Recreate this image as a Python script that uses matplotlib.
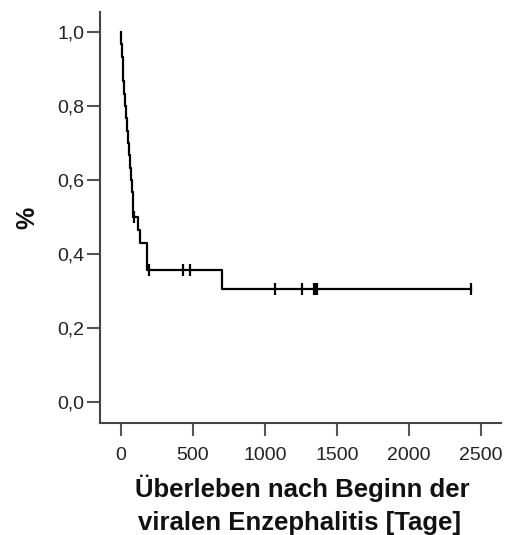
import numpy as np
import matplotlib.pyplot as plt
from matplotlib.ticker import FuncFormatter

# Survival times (days) and status: 1 = died, 0 = censored
times = [2, 6, 12, 17, 22, 30, 38, 44, 48, 54, 61, 68, 74, 80, 85,
         92, 115, 130, 178, 178, 195, 430, 480, 700,
         1070, 1258, 1340, 1350, 1360, 2432]
events = [1, 1, 1, 1, 1, 1, 1, 1, 1, 1, 1, 1, 1, 1, 1,
          0, 1, 1, 1, 1, 0, 0, 0, 1,
          0, 0, 0, 0, 0, 0]

x_ticks = [0, 500, 1000, 1500, 2000, 2500]
y_ticks = [0.0, 0.2, 0.4, 0.6, 0.8, 1.0]

FONT = ['Liberation Sans', 'DejaVu Sans']
plt.rcParams['font.family'] = FONT


# Kaplan-Meier estimate from times/events
def kaplan_meier(t, e):
    t = np.asarray(t, dtype=float)
    e = np.asarray(e)
    step_t = [0.0]
    step_s = [1.0]
    cens_t = []
    cens_s = []
    s = 1.0
    for u in np.unique(t):
        at_risk = np.sum(t >= u)
        d = np.sum((t == u) & (e == 1))
        c = np.sum((t == u) & (e == 0))
        if d > 0:
            s *= (at_risk - d) / at_risk
            step_t.append(u)
            step_s.append(s)
        if c > 0:
            cens_t.append(u)
            cens_s.append(s)
    return step_t, step_s, cens_t, cens_s


step_t, step_s, cens_t, cens_s = kaplan_meier(times, events)
# carry the last level to the last observation
step_t.append(max(times))
step_s.append(step_s[-1])

fig = plt.figure(figsize=(5.11, 5.35), dpi=100)
ax = fig.add_axes([0.1957, 0.2093, 0.7847, 0.7683])

ax.step(step_t, step_s, where='post', color='black', lw=1.6)
ax.plot(cens_t, cens_s, linestyle='none', marker='|', color='black',
        markersize=8, markeredgewidth=1.6)

ax.set_xlim(-146, 2639)
ax.set_ylim(-0.057, 1.054)
ax.set_xticks(x_ticks)
ax.set_yticks(y_ticks)
ax.yaxis.set_major_formatter(FuncFormatter(lambda v, p: f"{v:.1f}".replace('.', ',')))

for side in ['top', 'right']:
    ax.spines[side].set_visible(False)
for side in ['left', 'bottom']:
    ax.spines[side].set_color('#444444')
    ax.spines[side].set_linewidth(1.5)

ax.tick_params(axis='both', direction='out', length=9.5, width=1.5,
               color='#555555', labelsize=14, labelcolor='#222222')
ax.tick_params(axis='x', pad=8)
ax.tick_params(axis='y', pad=2)

# axis titles placed in figure pixels like the original
W, H = 511, 535
fig.text(27 / W, 1 - 218 / H, '%', fontsize=18, fontweight='bold',
         rotation=90, ha='center', va='center', color='#111111')
fig.text(302 / W, 1 - 497 / H, 'Überleben nach Beginn der', fontsize=18.5,
         fontweight='bold', ha='center', va='baseline', color='#111111')
fig.text(300 / W, 1 - 530 / H, 'viralen Enzephalitis [Tage]', fontsize=18.5,
         fontweight='bold', ha='center', va='baseline', color='#111111')

fig.savefig('out.png', dpi=100)
